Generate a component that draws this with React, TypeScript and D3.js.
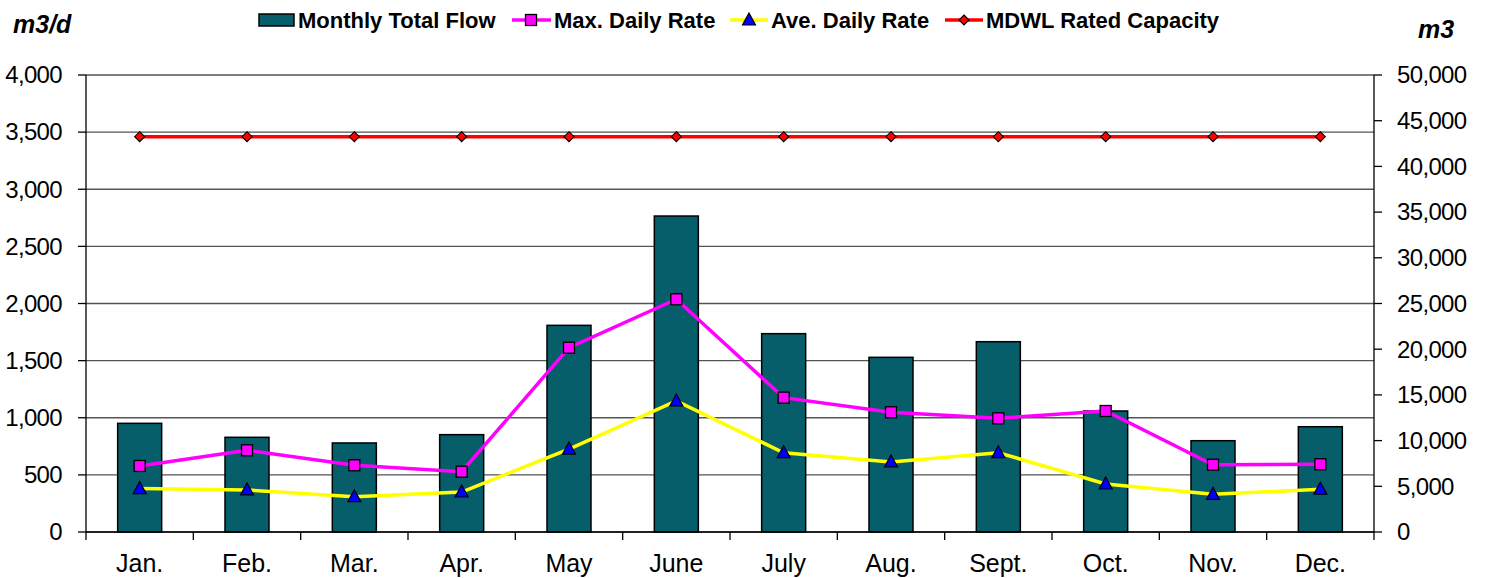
import React from "react";
import * as d3 from "d3";

const months = ["Jan.", "Feb.", "Mar.", "Apr.", "May", "June", "July", "Aug.", "Sept.", "Oct.", "Nov.", "Dec."];
const monthlyTotalFlow = [11890, 10360, 9740, 10650, 22610, 34570, 21700, 19110, 20820, 13240, 9990, 11520];
const maxDailyRate = [578, 715, 584, 528, 1613, 2037, 1176, 1048, 995, 1059, 589, 593];
const aveDailyRate = [380, 368, 309, 350, 726, 1147, 694, 613, 694, 420, 330, 374];
const ratedCapacity = [3460, 3460, 3460, 3460, 3460, 3460, 3460, 3460, 3460, 3460, 3460, 3460];
const leftTicks = [0, 500, 1000, 1500, 2000, 2500, 3000, 3500, 4000];
const rightTicks = [0, 5000, 10000, 15000, 20000, 25000, 30000, 35000, 40000, 45000, 50000];

const W = 1485, H = 578;
const L = 86, R = 1374, T = 75, B = 532;
const FONT = "Arial, 'Liberation Sans', sans-serif";

export default function App() {
  const x = d3.scaleBand<string>().domain(months).range([L, R]).paddingInner(0).paddingOuter(0);
  const yL = d3.scaleLinear().domain([0, 4000]).range([B, T]);
  const yR = d3.scaleLinear().domain([0, 50000]).range([B, T]);
  const cx = (m: string) => (x(m) as number) + x.bandwidth() / 2;
  const barW = x.bandwidth() * 0.41;
  const fmt = (v: number) => d3.format(",")(v);

  const lineL = (vals: number[]) =>
    d3.line<number>().x((_, i) => cx(months[i])).y((v) => yL(v))(vals) as string;

  const square = (px: number, py: number, key: string) => (
    <rect key={key} x={px - 5.5} y={py - 5.5} width={11} height={11} fill="#FF00FF" stroke="#000" strokeWidth={1.3} />
  );
  const tri = (px: number, py: number, key: string) => (
    <path key={key} d={`M${px},${py - 7}L${px + 6.5},${py + 5}L${px - 6.5},${py + 5}Z`} fill="#0000FF" stroke="#000" strokeWidth={1.2} />
  );
  const diamond = (px: number, py: number, key: string) => (
    <path key={key} d={`M${px},${py - 5}L${px + 5},${py}L${px},${py + 5}L${px - 5},${py}Z`} fill="#FF0000" stroke="#000" strokeWidth={1.1} />
  );

  return (
    <svg width={W} height={H} style={{ position: "absolute", left: 0, top: 0, background: "#fff" }} fontFamily={FONT}>
      <rect x={0} y={0} width={W} height={H} fill="#fff" />
      {/* gridlines */}
      {leftTicks.map((t) => (
        <line key={"g" + t} x1={L} x2={R} y1={yL(t)} y2={yL(t)} stroke="#555" strokeWidth={1.4} />
      ))}
      {/* bars */}
      {months.map((m, i) => (
        <rect key={"b" + m} x={cx(m) - barW / 2} y={yR(monthlyTotalFlow[i])} width={barW} height={B - yR(monthlyTotalFlow[i])}
          fill="#065E6A" stroke="#000" strokeWidth={1.5} />
      ))}
      {/* axes */}
      <line x1={L} x2={L} y1={T} y2={B} stroke="#000" strokeWidth={1.3} />
      <line x1={R} x2={R} y1={T} y2={B} stroke="#000" strokeWidth={1.3} />
      <line x1={L} x2={R} y1={B} y2={B} stroke="#000" strokeWidth={1.3} />
      {leftTicks.map((t) => (
        <g key={"lt" + t}>
          <line x1={L - 8} x2={L} y1={yL(t)} y2={yL(t)} stroke="#000" strokeWidth={1.3} />
          <text x={62} y={yL(t) + 8.3} textAnchor="end" fontSize={24} letterSpacing={-0.65} fill="#000">{fmt(t)}</text>
        </g>
      ))}
      {rightTicks.map((t) => (
        <g key={"rt" + t}>
          <line x1={R} x2={R + 8} y1={yR(t)} y2={yR(t)} stroke="#000" strokeWidth={1.3} />
          <text x={1397} y={yR(t) + 8.3} textAnchor="start" fontSize={24} letterSpacing={-0.65} fill="#000">{fmt(t)}</text>
        </g>
      ))}
      {months.map((m) => (
        <line key={"xt" + m} x1={x(m) as number} x2={x(m) as number} y1={B} y2={B + 8} stroke="#000" strokeWidth={1.3} />
      ))}
      <line x1={R} x2={R} y1={B} y2={B + 8} stroke="#000" strokeWidth={1.3} />
      {months.map((m) => (
        <text key={"xl" + m} x={cx(m)} y={571.7} textAnchor="middle" fontSize={25} fill="#000">{m}</text>
      ))}
      {/* lines */}
      <path d={lineL(ratedCapacity)} fill="none" stroke="#FF0000" strokeWidth={3.5} />
      <path d={lineL(maxDailyRate)} fill="none" stroke="#FF00FF" strokeWidth={3.5} />
      <path d={lineL(aveDailyRate)} fill="none" stroke="#FFFF00" strokeWidth={3.5} />
      {ratedCapacity.map((v, i) => diamond(cx(months[i]), yL(v), "d" + i))}
      {maxDailyRate.map((v, i) => square(cx(months[i]), yL(v), "s" + i))}
      {aveDailyRate.map((v, i) => tri(cx(months[i]), yL(v), "t" + i))}
      {/* axis titles */}
      <text x={13} y={33} fontSize={25} fontWeight="bold" fontStyle="italic" fill="#000">m3/d</text>
      <text x={1418} y={38} fontSize={25} fontWeight="bold" fontStyle="italic" fill="#000">m3</text>
      {/* legend */}
      <rect x={259} y={14} width={35} height={12} fill="#065E6A" stroke="#000" strokeWidth={1.5} />
      <text x={298} y={27.5} fontSize={22} fontWeight="bold" fill="#000">Monthly Total Flow</text>
      <line x1={512} x2={551} y1={20} y2={20} stroke="#FF00FF" strokeWidth={3.5} />
      {square(531, 20, "ls")}
      <text x={554} y={27.5} fontSize={22} fontWeight="bold" fill="#000">Max. Daily Rate</text>
      <line x1={730} x2={768} y1={20} y2={20} stroke="#FFFF00" strokeWidth={3.5} />
      {tri(749, 20, "lt")}
      <text x={771} y={27.5} fontSize={22} fontWeight="bold" fill="#000">Ave. Daily Rate</text>
      <line x1={945} x2={983} y1={20} y2={20} stroke="#FF0000" strokeWidth={3.5} />
      {diamond(964, 20, "ld")}
      <text x={986} y={27.5} fontSize={22} fontWeight="bold" fill="#000">MDWL Rated Capacity</text>
    </svg>
  );
}
